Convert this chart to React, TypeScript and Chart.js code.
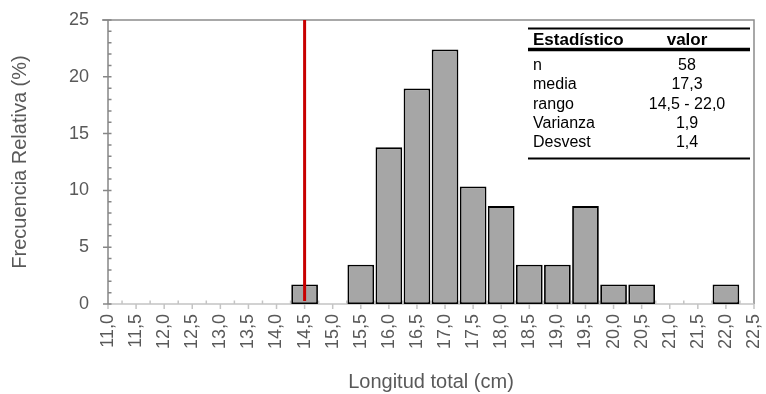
import { useEffect, useRef } from 'react';
import { Chart, registerables } from 'chart.js';

Chart.register(...registerables);

// ---- data ----
const categories = [
  '11,0', '11,5', '12,0', '12,5', '13,0', '13,5', '14,0', '14,5', '15,0', '15,5', '16,0', '16,5',
  '17,0', '17,5', '18,0', '18,5', '19,0', '19,5', '20,0', '20,5', '21,0', '21,5', '22,0', '22,5',
];
const relFreq = [
  0, 0, 0, 0, 0, 0, 0, 1.72, 0, 3.45, 13.79, 18.97,
  22.41, 10.34, 8.62, 3.45, 3.45, 8.62, 1.72, 1.72, 0, 0, 1.72, 0,
];
const yMin = 0;
const yMax = 25;
const yStep = 5;
const yMinorStep = 1;
const markerCategory = '14,5';
const statHeaders = ['Estadístico', 'valor'];
const statNames = ['n', 'media', 'rango', 'Varianza', 'Desvest'];
const statValues = ['58', '17,3', '14,5 - 22,0', '1,9', '1,4'];
const xTitle = 'Longitud total (cm)';
const yTitle = 'Frecuencia Relativa (%)';

const FONT = '"Liberation Sans", Arial, Helvetica, sans-serif';
const TEXT = '#595959';

const decorPlugin = {
  id: 'decor',
  beforeDatasetsDraw(chart: any) {
    const { ctx, chartArea: a, scales } = chart;
    const x = scales.x;
    const y = scales.y;
    ctx.save();
    // plot border (top & right)
    ctx.strokeStyle = '#8c8c8c';
    ctx.lineWidth = 1.5;
    ctx.beginPath();
    ctx.moveTo(a.left - 6, a.top);
    ctx.lineTo(a.right, a.top);
    ctx.lineTo(a.right, a.bottom);
    ctx.stroke();
    // x axis
    ctx.strokeStyle = '#c4c4c4';
    ctx.lineWidth = 1.5;
    ctx.beginPath();
    ctx.moveTo(a.left, a.bottom);
    ctx.lineTo(a.right, a.bottom);
    for (let i = 0; i < categories.length; i++) {
      const px = x.getPixelForValue(i);
      ctx.moveTo(px, a.bottom);
      ctx.lineTo(px, a.bottom + 5);
      if (i < categories.length - 1) {
        const mx = (px + x.getPixelForValue(i + 1)) / 2;
        ctx.moveTo(mx, a.bottom);
        ctx.lineTo(mx, a.bottom - 3.5);
      }
    }
    ctx.stroke();
    // y axis
    ctx.strokeStyle = '#868686';
    ctx.lineWidth = 1.5;
    ctx.beginPath();
    ctx.moveTo(a.left, a.top);
    ctx.lineTo(a.left, a.bottom);
    for (let v = yMin; v <= yMax; v += yMinorStep) {
      const py = y.getPixelForValue(v);
      if (v % yStep === 0) {
        ctx.moveTo(a.left - 5, py);
        ctx.lineTo(a.left, py);
      }
      ctx.moveTo(a.left, py);
      ctx.lineTo(a.left + 3.5, py);
    }
    ctx.stroke();
    ctx.restore();
  },
  afterDatasetsDraw(chart: any) {
    const { ctx, chartArea: a, scales } = chart;
    const x = scales.x;
    ctx.save();
    // red marker line
    const mx = x.getPixelForValue(categories.indexOf(markerCategory));
    ctx.strokeStyle = '#c80000';
    ctx.lineWidth = 3;
    ctx.beginPath();
    ctx.moveTo(mx, a.top);
    ctx.lineTo(mx, a.bottom - 3);
    ctx.stroke();

    // stats table
    const tl = a.right - 226;
    const tr = a.right - 4;
    const valCenter = a.right - 67;
    const textLeft = tl + 5;
    ctx.strokeStyle = '#000';
    ctx.lineWidth = 2;
    ctx.beginPath();
    ctx.moveTo(tl, a.top + 8.5);
    ctx.lineTo(tr, a.top + 8.5);
    ctx.stroke();
    ctx.lineWidth = 3.5;
    ctx.beginPath();
    ctx.moveTo(tl, a.top + 29.5);
    ctx.lineTo(tr, a.top + 29.5);
    ctx.stroke();
    ctx.lineWidth = 2;
    ctx.beginPath();
    ctx.moveTo(tl, a.top + 138.5);
    ctx.lineTo(tr, a.top + 138.5);
    ctx.stroke();

    ctx.fillStyle = '#000';
    ctx.textBaseline = 'alphabetic';
    ctx.font = `bold 17px ${FONT}`;
    ctx.textAlign = 'left';
    ctx.fillText(statHeaders[0], textLeft, a.top + 24.5);
    ctx.textAlign = 'center';
    ctx.fillText(statHeaders[1], valCenter, a.top + 24.5);
    ctx.font = `16px ${FONT}`;
    const rowH = 19.35;
    for (let i = 0; i < statNames.length; i++) {
      const by = a.top + 50 + i * rowH;
      ctx.textAlign = 'left';
      ctx.fillText(statNames[i], textLeft, by);
      ctx.textAlign = 'center';
      ctx.fillText(statValues[i], valCenter, by);
    }
    ctx.restore();
  },
};

export default function App() {
  const canvasRef = useRef<HTMLCanvasElement | null>(null);

  useEffect(() => {
    if (!canvasRef.current) return;
    const chart = new Chart(canvasRef.current, {
      type: 'bar',
      data: {
        labels: categories,
        datasets: [
          {
            data: relFreq.map((v) => (v === 0 ? null : v)),
            backgroundColor: '#a6a6a6',
            borderColor: '#000000',
            borderWidth: 1.8,
            borderSkipped: false,
            barPercentage: 0.95,
            categoryPercentage: 1,
          },
        ],
      },
      options: {
        responsive: false,
        animation: false,
        layout: { padding: { top: 20, right: 12, bottom: 0, left: 0 } },
        plugins: {
          legend: { display: false },
          tooltip: { enabled: false },
        },
        scales: {
          x: {
            type: 'category',
            offset: false,
            grid: { display: false, drawTicks: false, offset: false },
            border: { display: false },
            ticks: {
              autoSkip: false,
              minRotation: 90,
              maxRotation: 90,
              padding: 10,
              color: TEXT,
              font: { family: FONT, size: 18 },
            },
            title: {
              display: true,
              text: xTitle,
              color: TEXT,
              font: { family: FONT, size: 20 },
              padding: { top: 0, bottom: 0 },
            },
            afterFit: (s: any) => {
              s.height = 90;
              s.paddingLeft = 0;
              s.paddingRight = 0;
            },
          },
          y: {
            min: yMin,
            max: yMax,
            grid: { display: false, drawTicks: false },
            border: { display: false },
            ticks: {
              stepSize: yStep,
              padding: 19,
              color: TEXT,
              font: { family: FONT, size: 18 },
            },
            title: {
              display: true,
              text: yTitle,
              color: TEXT,
              font: { family: FONT, size: 20 },
              padding: { top: 8, bottom: 0 },
            },
            afterFit: (s: any) => {
              s.width = 108;
              s.paddingTop = 0;
              s.paddingBottom = 0;
            },
          },
        },
      },
      plugins: [decorPlugin],
    });
    return () => chart.destroy();
  }, []);

  return (
    <div style={{ position: 'absolute', left: 0, top: 0, width: 766, height: 394, background: '#fff' }}>
      <canvas ref={canvasRef} width={766} height={394} style={{ display: 'block' }} />
    </div>
  );
}
